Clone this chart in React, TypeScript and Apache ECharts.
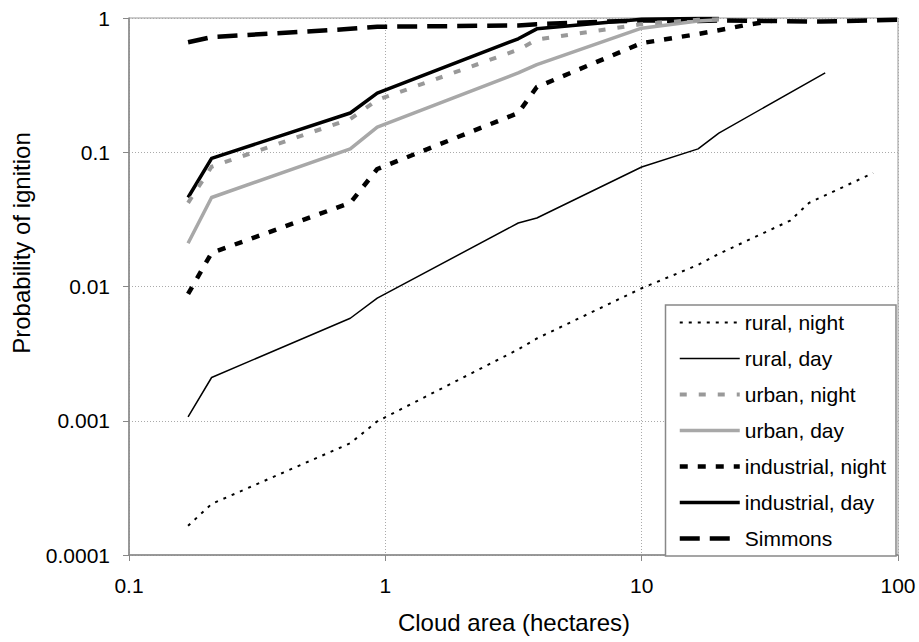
import React, { useEffect, useRef } from "react";
import * as echarts from "echarts";

const areaBase = [0.17, 0.21, 0.73, 0.93, 3.3, 3.9, 10, 16.6, 20];
const ruralNightX = [...areaBase, 38, 45, 80];
const ruralNight = [0.000165, 0.00024, 0.00068, 0.00099, 0.0034, 0.0041, 0.0097, 0.0145, 0.0175, 0.031, 0.042, 0.07];
const ruralDayX = [...areaBase, 52];
const ruralDay = [0.00107, 0.0021, 0.0058, 0.0082, 0.0297, 0.0324, 0.0776, 0.106, 0.139, 0.39];
const urbanNightX = [...areaBase];
const urbanNight = [0.042, 0.078, 0.177, 0.245, 0.58, 0.69, 0.9, 0.97, 0.98];
const urbanDayX = [...areaBase];
const urbanDay = [0.021, 0.046, 0.106, 0.154, 0.39, 0.45, 0.84, 0.95, 0.97];
const industrialNightX = [...areaBase, 25, 32];
const industrialNight = [0.0088, 0.0178, 0.042, 0.075, 0.196, 0.306, 0.65, 0.76, 0.81, 0.88, 0.95];
const industrialDayX = [...areaBase];
const industrialDay = [0.046, 0.09, 0.196, 0.276, 0.7, 0.83, 0.98, 0.99, 0.99];
const simmonsX = [...areaBase, 50, 100];
const simmons = [0.66, 0.72, 0.83, 0.86, 0.88, 0.9, 0.96, 0.95, 0.96, 0.94, 0.97];

const seriesNames = [
  "rural, night",
  "rural, day",
  "urban, night",
  "urban, day",
  "industrial, night",
  "industrial, day",
  "Simmons",
];

const xTickLabels = ["0.1", "1", "10", "100"];
const yTickLabels = ["0.0001", "0.001", "0.01", "0.1", "1"];

const FONT = "'Liberation Sans', Arial, sans-serif";

function zip(xs: number[], ys: number[]) {
  return xs.map((x, i) => [x, ys[i]]);
}

export default function App() {
  const ref = useRef<HTMLDivElement>(null);
  useEffect(() => {
    if (!ref.current) return;
    const chart = echarts.init(ref.current, undefined, { renderer: "svg" });
    const styles: any[] = [
      { color: "#000", width: 2, type: [3, 6] },
      { color: "#000", width: 1.5, type: "solid" },
      { color: "#999", width: 4, type: [7, 12] },
      { color: "#a8a8a8", width: 3.5, type: "solid" },
      { color: "#000", width: 4.5, type: [8, 10] },
      { color: "#000", width: 3.5, type: "solid" },
      { color: "#000", width: 4.5, type: [20, 10] },
    ];
    const datas = [
      zip(ruralNightX, ruralNight),
      zip(ruralDayX, ruralDay),
      zip(urbanNightX, urbanNight),
      zip(urbanDayX, urbanDay),
      zip(industrialNightX, industrialNight),
      zip(industrialDayX, industrialDay),
      zip(simmonsX, simmons),
    ];
    const series = seriesNames.map((name, i) => ({
      name,
      type: "line",
      data: datas[i],
      symbol: "none",
      showSymbol: false,
      lineStyle: { ...styles[i], cap: "butt", join: "round" },
      itemStyle: { color: styles[i].color },
      emphasis: { disabled: true },
      z: 10 - i,
    }));
    const legendData = seriesNames.map((name, i) => ({
      name,
      lineStyle: { color: styles[i].color, width: styles[i].width, type: styles[i].type, cap: "butt" },
      itemStyle: { opacity: 0, color: "transparent", borderWidth: 0 },
    }));
    chart.setOption({
      animation: false,
      textStyle: { fontFamily: FONT },
      grid: {
        left: 129,
        right: 21,
        top: 18,
        bottom: 87,
        show: true,
        borderColor: "#999",
        borderWidth: 1,
        containLabel: false,
      },
      xAxis: {
        type: "log",
        logBase: 10,
        min: 0.1,
        max: 100,
        axisLine: { show: true, onZero: false, lineStyle: { color: "#888", width: 1.5 } },
        axisTick: { show: true, inside: false, length: 6, lineStyle: { color: "#888" } },
        minorTick: { show: false },
        splitLine: { show: true, lineStyle: { color: "#aaa", type: [1, 2], width: 1 } },
        axisLabel: {
          margin: 20,
          fontSize: 21,
          color: "#000",
          fontFamily: FONT,
          formatter: (v: number) => xTickLabels[Math.round(Math.log10(v)) + 1] ?? "",
        },
      },
      yAxis: {
        type: "log",
        logBase: 10,
        min: 0.0001,
        max: 1,
        axisLine: { show: true, onZero: false, lineStyle: { color: "#888", width: 1.5 } },
        axisTick: { show: true, inside: false, length: 6, lineStyle: { color: "#888" } },
        splitLine: { show: true, lineStyle: { color: "#aaa", type: [1, 2], width: 1 } },
        axisLabel: {
          margin: 19,
          fontSize: 21,
          color: "#000",
          fontFamily: FONT,
          formatter: (v: number) => yTickLabels[Math.round(Math.log10(v)) + 4] ?? "",
        },
      },
      legend: {
        show: true,
        orient: "vertical",
        right: 23,
        top: 305,
        data: legendData,
        itemWidth: 60,
        itemHeight: 14,
        itemGap: 15,
        padding: [7, 10, 7, 12],
        borderColor: "#888",
        borderWidth: 1.5,
        backgroundColor: "#fff",
        selectedMode: false,
        itemStyle: { opacity: 0 },
        textStyle: { fontSize: 21, color: "#000", fontFamily: FONT },
      },
      graphic: [
        {
          type: "text",
          x: 514,
          y: 622,
          style: {
            text: "Cloud area (hectares)",
            fontSize: 24,
            fontFamily: FONT,
            fill: "#000",
            textAlign: "center",
            textVerticalAlign: "middle",
          },
        },
        {
          type: "text",
          x: 21,
          y: 243,
          rotation: Math.PI / 2,
          style: {
            text: "Probability of ignition",
            fontSize: 24,
            fontFamily: FONT,
            fill: "#000",
            textAlign: "center",
            textVerticalAlign: "middle",
          },
        },
      ],
      series,
    });
    return () => chart.dispose();
  }, []);
  return (
    <div
      ref={ref}
      style={{ position: "fixed", left: 0, top: 0, width: 919, height: 642, background: "#fff" }}
    />
  );
}
